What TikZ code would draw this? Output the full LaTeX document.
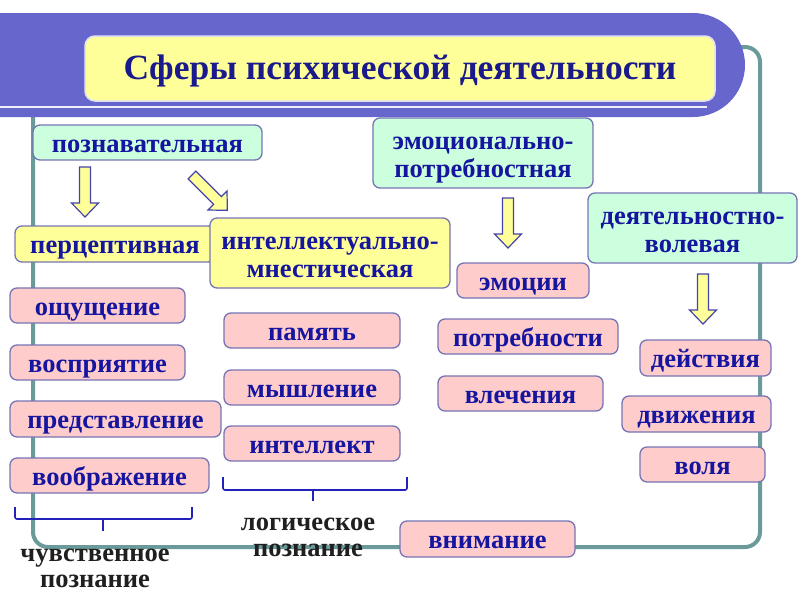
\documentclass[tikz,border=0pt]{standalone}
\usepackage{fontspec}
\setmainfont{Liberation Serif}
\definecolor{bandc}{HTML}{6666CC}
\definecolor{framec}{HTML}{6A9A9A}
\definecolor{yfill}{HTML}{FFFF99}
\definecolor{gfill}{HTML}{CCFFDD}
\definecolor{pfill}{HTML}{FFCCCC}
\definecolor{bordc}{HTML}{7575B5}
\definecolor{txtc}{HTML}{1515A0}
\definecolor{ttlc}{HTML}{1A1A8C}
\definecolor{brcc}{HTML}{2222BB}
\definecolor{arrc}{HTML}{4444AA}
\tikzset{
  box/.style={draw=bordc, line width=1.3pt, rounded corners=7pt, inner sep=0pt,
    text=txtc, font=\fontsize{26.5}{28}\selectfont\bfseries,
    text height=19pt, text depth=0pt},
  twoline/.style={align=center, text height=48pt, text depth=0pt},
  gbox/.style={box, fill=gfill},
  ybox/.style={box, fill=yfill},
  pbox/.style={box, fill=pfill},
  titlebox/.style={draw=white!80!bandc, line width=1.5pt, fill=yfill, rounded corners=10pt,
    text=ttlc, font=\fontsize{35.5}{40}\selectfont\bfseries, inner sep=0pt,
    text height=24pt, text depth=2pt},
  barrow/.style={draw=arrc, fill=yfill, line width=1.2pt, line join=miter},
  bracket/.style={draw=brcc, line width=1.6pt, rounded corners=2pt},
  lbl/.style={align=center, text=black!88, font=\fontsize{26.5}{26}\selectfont\bfseries,
    inner sep=0pt, text height=45pt, text depth=0pt},
  frameline/.style={draw=framec, line width=4pt, rounded corners=15pt}
}
\newcommand\blockarrow[3]{%
  \begin{scope}[shift={(#1,#2)}, rotate=#3]
    \draw[barrow] (-5.5,0) -- (5.5,0) -- (5.5,36) -- (13.5,36) -- (0,50) -- (-13.5,36) -- (-5.5,36) -- cycle;
  \end{scope}}
\begin{document}
\begin{tikzpicture}[x=1pt,y=-1pt]
\path[use as bounding box] (0,0) rectangle (800,600);
\clip (0,0) rectangle (800,600);
% frame
\draw[frameline] (33,100) -- (33,547) -- (760,547) -- (760,47) -- (700,47);
% band
\fill[bandc, rounded corners=52pt] (-100,13) rectangle (745,117);
\fill[white!90!bandc] (-5,105.5) rectangle (707,108);
\node[titlebox, minimum width=630pt, minimum height=65pt] (title) at (400,68.5) {Сферы психической деятельности};
% top level
\node[gbox, minimum width=229pt, minimum height=35pt] (poz) at (147.5,142.5) {познавательная};
\node[gbox, twoline, minimum width=220pt, minimum height=70pt] (emo) at (483,153) {эмоционально-\\потребностная};
\node[gbox, twoline, minimum width=209pt, minimum height=70pt] (deyat) at (692.5,228) {деятельностно-\\волевая};
% second level
\node[ybox, minimum width=200pt, minimum height=36pt] (perc) at (115,244) {перцептивная};
\node[ybox, twoline, minimum width=240pt, minimum height=70pt] (intel) at (330,253) {интеллектуально-\\мнестическая};
% leaves
\node[pbox, minimum width=132pt, minimum height=35pt] (emocii) at (523,280.5) {эмоции};
\node[pbox, minimum width=175pt, minimum height=35pt] (osh) at (97.5,305.5) {ощущение};
\node[pbox, minimum width=175pt, minimum height=35pt] (vosp) at (97.5,362.5) {восприятие};
\node[pbox, minimum width=211pt, minimum height=36pt] (pred) at (115.5,419) {представление};
\node[pbox, minimum width=199pt, minimum height=35pt] (voob) at (109.5,475.5) {воображение};
\node[pbox, minimum width=176pt, minimum height=35pt] (pam) at (312,330.5) {память};
\node[pbox, minimum width=176pt, minimum height=35pt] (mysh) at (312,387.5) {мышление};
\node[pbox, minimum width=176pt, minimum height=35pt] (intl) at (312,443.5) {интеллект};
\node[pbox, minimum width=180pt, minimum height=35pt] (potr) at (528,336.5) {потребности};
\node[pbox, minimum width=165pt, minimum height=35pt] (vlech) at (520.5,393.5) {влечения};
\node[pbox, minimum width=131pt, minimum height=36pt] (deistv) at (705.5,358) {действия};
\node[pbox, minimum width=149pt, minimum height=36pt] (dvizh) at (696.5,414) {движения};
\node[pbox, minimum width=125pt, minimum height=35pt] (volya) at (702.5,464.5) {воля};
\node[pbox, minimum width=175pt, minimum height=36pt] (vnim) at (487.5,539) {внимание};
% block arrows
\blockarrow{85}{167}{0}
\blockarrow{192}{175}{45}
\blockarrow{508}{198}{0}
\blockarrow{703}{274}{0}
% brackets
\draw[bracket] (15,507) -- (15,519) -- (192,519) -- (192,507);
\draw[bracket] (103,519) -- (103,531);
\draw[bracket] (223,477) -- (223,490) -- (407,490) -- (407,477);
\draw[bracket] (313,490) -- (313,501);
% labels
\node[lbl] (chuv) at (95,565) {чувственное\\познание};
\node[lbl] (logi) at (308,534) {логическое\\познание};
\end{tikzpicture}
\end{document}
